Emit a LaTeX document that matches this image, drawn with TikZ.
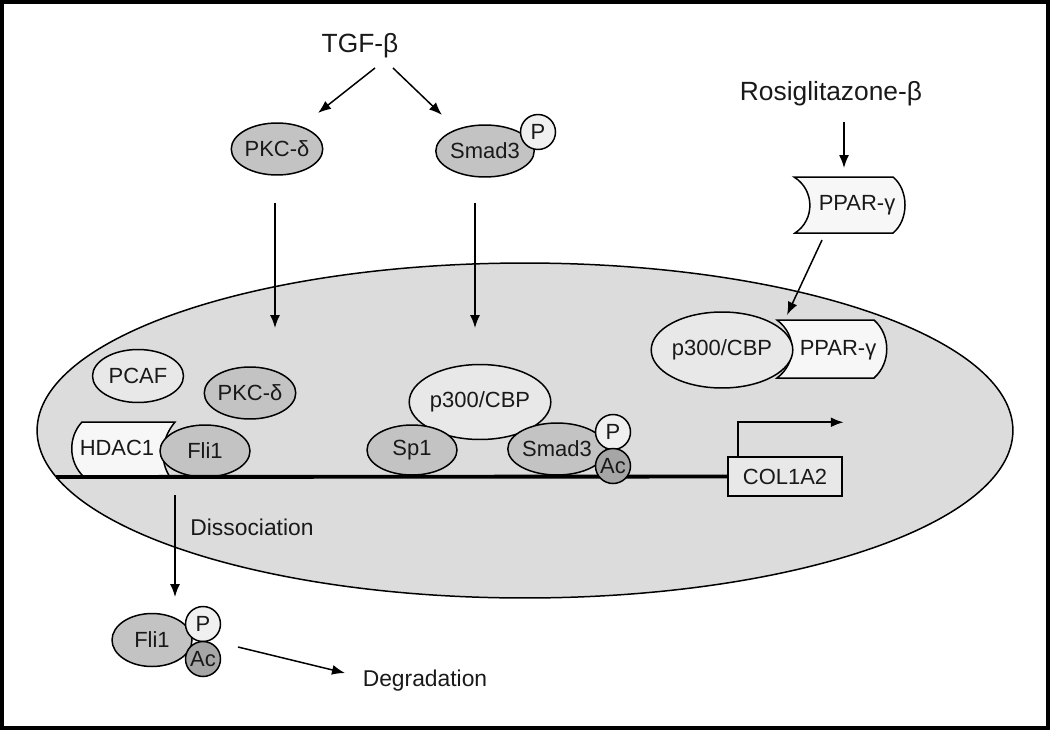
\documentclass[tikz,border=0pt]{standalone}
\usepackage{fontspec}
\setmainfont{Liberation Sans}
\usetikzlibrary{shapes,arrows,arrows.meta,calc}
\definecolor{nucleus}{HTML}{DCDCDC}
\definecolor{darkprot}{HTML}{C3C3C3}
\definecolor{lightprot}{HTML}{E8E8E8}
\definecolor{pwhite}{HTML}{F0F0F0}
\definecolor{acgray}{HTML}{A6A6A6}
\definecolor{boxwhite}{HTML}{F7F7F7}
\tikzstyle{protein} = [ellipse, draw, fill=darkprot, inner sep=0pt, minimum width=1.8cm, minimum height=1.04cm]
\tikzstyle{cofactor} = [protein, fill=lightprot, minimum width=2.8cm, minimum height=1.5cm]
\tikzstyle{phos} = [circle, draw, fill=pwhite, inner sep=0pt, minimum size=0.7cm]
\tikzstyle{acet} = [phos, fill=acgray]
\tikzstyle{gene} = [rectangle, draw, fill=lightprot, minimum width=2.28cm, minimum height=0.78cm]
\tikzstyle{signal} = [font=\fontsize{15}{18}\selectfont]
\tikzstyle{process} = [font=\fontsize{13}{16}\selectfont]
\tikzstyle{line} = [draw, -{Latex[length=2.6mm, width=2mm]}]
\tikzstyle{dna} = [draw, line width=2.2pt]

\begin{document}
\begin{tikzpicture}[x=0.02cm, y=-0.02cm, line width=0.85pt, text=black!90, font=\fontsize{12.5}{15}\selectfont]
        \useasboundingbox (0,0) rectangle (1050,730);
        \draw [line width=2pt] (1.8,1.8) rectangle (1048.2,728.2);
        % nucleus
        \draw [fill=nucleus] (525,430.5) ellipse [x radius=9.76cm, y radius=3.35cm];

        % cytoplasm
        \node [signal] (tgf) at (360,46) {TGF-β};
        \node [protein] (pkctop) at (277,149) {PKC-δ};
        \node [protein] (smadtop) at (485,151) {Smad3};
        \node [phos] (ptop) at (538,132) {P};
        \node [signal] (rosi) at (831,94) {Rosiglitazone-β};
        \draw [fill=boxwhite] (794,177) -- (893,177) .. controls (909,190) and (909,220) .. (893,233)
                -- (795,233) .. controls (815,220) and (815,190) .. (794,177) -- cycle;
        \node (ppartop) at (857,205) {PPAR-γ};

        % nucleus contents
        \node [gene] (col) at (785,476.5) {COL1A2};
        \draw [fill=boxwhite] (82,422) -- (175,422) .. controls (160,440) and (160,462) .. (170,477)
                -- (84,477) .. controls (68,462) and (68,437) .. (82,422) -- cycle;
        \node (hdac) at (117,448) {HDAC1};
        \node [protein] (flinuc) at (205,451) {Fli1};
        \node [protein, fill=lightprot, minimum width=1.82cm, minimum height=1.06cm] (pcaf) at (138,376) {PCAF};
        \node [protein, minimum width=1.82cm] (pkcnuc) at (250,393) {PKC-δ};
        \node [cofactor] (cbpnuc) at (480,402) {p300/CBP};
        \node [protein, minimum width=1.8cm, minimum height=1cm] (sp1) at (412,450) {Sp1};
        \node [protein, minimum width=1.76cm] (smadnuc) at (557,449) {Smad3};
        \coordinate (dnaleft) at (56,477);
        \path [dna] (dnaleft) -- (col.west);
        \node [phos] (pnuc) at (613,432) {P};
        \node [acet] (acnuc) at (613,466) {Ac};
        \draw [fill=boxwhite] (777,320) -- (874,320) .. controls (891,335) and (891,363) .. (874,378)
                -- (777,378) .. controls (797,363) and (797,335) .. (777,320) -- cycle;
        \node (pparnuc) at (838,350) {PPAR-γ};
        \node [cofactor, minimum height=1.52cm] (cbpright) at (722,350) {p300/CBP};
        \node [process] (dissoc) at (252,527) {Dissociation};

        % released Fli1
        \node [protein, minimum width=1.6cm, minimum height=1.06cm] (fliout) at (152,640) {Fli1};
        \node [phos] (pout) at (203,624) {P};
        \node [acet] (acout) at (203,659) {Ac};
        \node [process] (degr) at (425,681) {Degradation};

        \path [line] ($(tgf)+(15,22)$) -- ($(pkctop)+(41,-36)$);
        \path [line] ($(tgf)+(33,22)$) -- ($(smadtop)+(-43,-36)$);
        \path [line] ($(rosi)+(13,28)$) -- ($(ppartop)+(-13,-37)$);
        \path [line] ($(ppartop)+(-35,35)$) -- ($(pparnuc)+(-51,-35)$);
        \path [line] ($(pkctop)+(-2,54)$) -- ($(pkcnuc)+(25,-65)$);
        \path [line] ($(smadtop)+(-10,52)$) -- ($(cbpnuc)+(-5,-74)$);
        \path [line] ($(flinuc)+(-30,44)$) -- ($(fliout)+(23,-43)$);
        \path [line] ($(acout)+(35,-12)$) -- ($(degr)+(-80,-8)$);
        \path [line, line width=1.2pt] ($(col.north west)+(11,0)$) |- ($(col.north east)+(1,-34)$);
      \end{tikzpicture}
\end{document}
